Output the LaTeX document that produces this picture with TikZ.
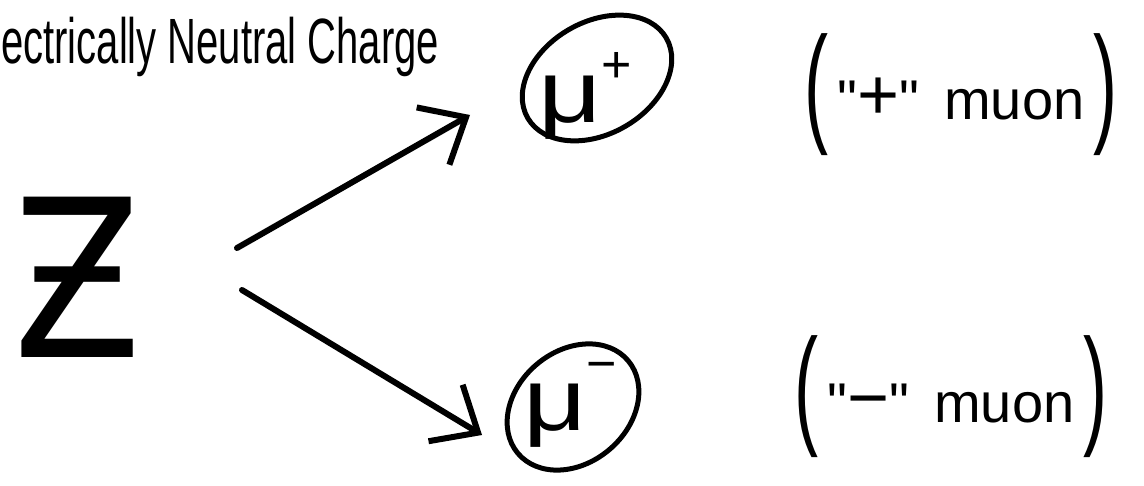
\documentclass[tikz,border=0pt]{standalone}
\usepackage{fontspec}
\setmainfont{Liberation Sans}[Ligatures=TeXOff]
\newfontfamily\zfont{DejaVu Sans}
\usetikzlibrary{arrows.meta}
\newcommand{\tallparen}[1]{\raisebox{-9pt}{\resizebox*{24pt}{122pt}{#1}}}
\newcommand{\bigsign}[1]{{\fontsize{72}{72}\selectfont #1}}
\begin{document}
\begin{tikzpicture}[x=1pt,y=-1pt,
  ink/.style={line width=5pt, line cap=round, line join=round},
  arr/.style={line width=6pt, line cap=round, -{Straight Barb[length=38pt,width=66pt,line width=6pt]}},
  particle/.style={inner sep=0, font=\fontsize{88}{88}\selectfont},
  lab/.style={inner sep=0, anchor=base, font=\fontsize{56}{56}\selectfont}]
\useasboundingbox[fill=white] (0,0) rectangle (1144,486);
\node[anchor=base west, inner sep=0, font=\fontsize{40}{40}\selectfont] (title) at (1,64) {\scalebox{1}[1.6]{ectrically Neutral Charge}};
\node[inner sep=0, font=\fontsize{220}{220}\zfont] (Z) at (78,277) {\scalebox{0.85}[1]{Ƶ}};
% mu plus
\node[particle] (mup) at (585,96) {\scalebox{1.25}[1]{μ}\raisebox{0.45em}{\fontsize{52}{52}\selectfont +}};
\draw[ink, rotate around={30:(597,78)}] (597,78) ellipse [x radius=80, y radius=56];
% mu minus
\node[particle] (mum) at (570,405) {\scalebox{1.25}[1]{μ}\raisebox{0.55em}{\fontsize{52}{52}\selectfont −}};
\draw[ink, rotate around={40:(573,407)}] (573,407) ellipse [x radius=72, y radius=56];
% labels
\node[lab] (plab) at (961,120) {\tallparen{(}\,"\bigsign{+}"\, muon\,\tallparen{)}};
\node[lab] (mlab) at (951,422) {\tallparen{(}\,"\bigsign{−}"\, muon\,\tallparen{)}};
% arrows
\coordinate (a1s) at (237,248);
\coordinate (a1e) at (470,115);
\coordinate (a2s) at (242,290);
\coordinate (a2e) at (482,435);
\draw[arr] (a1s) -- (a1e);
\draw[arr] (a2s) -- (a2e);
\end{tikzpicture}
\end{document}
